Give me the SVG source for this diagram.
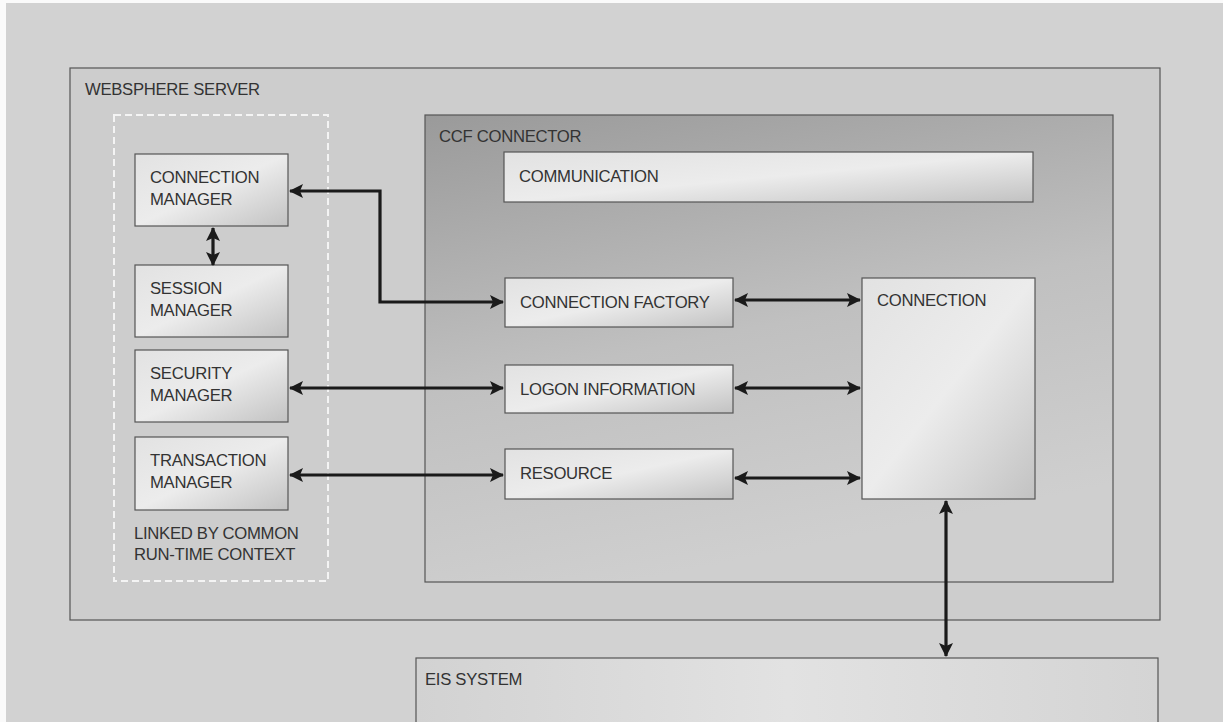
<svg xmlns="http://www.w3.org/2000/svg" width="1223" height="722" viewBox="0 0 1223 722">
<defs>
<linearGradient id="nodeGrad" x1="0" y1="0" x2="1" y2="1">
<stop offset="0" stop-color="#e2e2e2"/>
<stop offset="0.5" stop-color="#ececec"/>
<stop offset="1" stop-color="#c2c2c2"/>
</linearGradient>
<linearGradient id="ccfGrad" x1="0" y1="0" x2="0.3" y2="1">
<stop offset="0" stop-color="#9a9a9a"/>
<stop offset="0.55" stop-color="#c0c0c0"/>
<stop offset="1" stop-color="#cfcfcf"/>
</linearGradient>
<linearGradient id="eisGrad" x1="0" y1="0" x2="1" y2="0">
<stop offset="0" stop-color="#d2d2d2"/>
<stop offset="0.5" stop-color="#e2e2e2"/>
<stop offset="1" stop-color="#d4d4d4"/>
</linearGradient>
<marker id="ah" viewBox="0 0 14 14" refX="13" refY="7" markerWidth="14" markerHeight="14" markerUnits="userSpaceOnUse" orient="auto-start-reverse">
<path d="M0,0 L14,7 L0,14 L3,7 Z" fill="#1a1a1a"/>
</marker>
</defs>
<style>
text { font-family: "Liberation Sans", Arial, sans-serif; font-size: 16.7px; fill: #333; letter-spacing: -0.3px; }
.node { fill: url(#nodeGrad); stroke: #555; stroke-width: 1.2; }
.conn { fill: none; stroke: #1a1a1a; stroke-width: 3.2; marker-start: url(#ah); marker-end: url(#ah); }
</style>
<rect x="0" y="0" width="1223" height="722" fill="#fafafa"/>
<rect x="6" y="3" width="1217" height="719" fill="#d2d2d2"/>

<g id="websphere-server">
<rect x="70" y="68" width="1090" height="552" fill="#cdcdcd" stroke="#555" stroke-width="1.2"/>
<text x="85" y="95">WEBSPHERE SERVER</text>
</g>

<g id="runtime-context">
<rect x="114" y="115" width="214" height="466" fill="none" stroke="#f4f4f4" stroke-width="2" stroke-dasharray="7,4"/>
<text x="134" y="539">LINKED BY COMMON</text>
<text x="134" y="560">RUN-TIME CONTEXT</text>
</g>

<g id="ccf-connector">
<rect x="425" y="115" width="688" height="467" fill="url(#ccfGrad)" stroke="#555" stroke-width="1.2"/>
<text x="439" y="142">CCF CONNECTOR</text>
</g>

<g id="connection-manager">
<rect class="node" x="135" y="154" width="153" height="72"/>
<text x="150" y="183">CONNECTION</text>
<text x="150" y="205">MANAGER</text>
</g>
<g id="session-manager">
<rect class="node" x="135" y="265" width="153" height="72"/>
<text x="150" y="294">SESSION</text>
<text x="150" y="316">MANAGER</text>
</g>
<g id="security-manager">
<rect class="node" x="135" y="350" width="153" height="72"/>
<text x="150" y="379">SECURITY</text>
<text x="150" y="401">MANAGER</text>
</g>
<g id="transaction-manager">
<rect class="node" x="135" y="437" width="153" height="73"/>
<text x="150" y="466">TRANSACTION</text>
<text x="150" y="488">MANAGER</text>
</g>

<g id="communication">
<rect class="node" x="504" y="152" width="529" height="50"/>
<text x="519" y="182">COMMUNICATION</text>
</g>
<g id="connection-factory">
<rect class="node" x="505" y="278" width="228" height="49"/>
<text x="520" y="308">CONNECTION FACTORY</text>
</g>
<g id="logon-information">
<rect class="node" x="505" y="365" width="228" height="48"/>
<text x="520" y="395">LOGON INFORMATION</text>
</g>
<g id="resource">
<rect class="node" x="505" y="449" width="228" height="50"/>
<text x="520" y="479">RESOURCE</text>
</g>
<g id="connection">
<rect class="node" x="862" y="278" width="173" height="221"/>
<text x="877" y="306">CONNECTION</text>
</g>

<g id="eis-system">
<rect x="416" y="658" width="742" height="70" fill="url(#eisGrad)" stroke="#555" stroke-width="1.2"/>
<text x="425" y="685">EIS SYSTEM</text>
</g>

<g id="connectors">
<path class="conn" d="M290,191 H380 V302 H503"/>
<path class="conn" d="M213,228 V265"/>
<path class="conn" d="M290,388 H503"/>
<path class="conn" d="M290,475 H503"/>
<path class="conn" d="M735,300 H860"/>
<path class="conn" d="M735,388 H860"/>
<path class="conn" d="M735,478 H860"/>
<path class="conn" d="M946,501 V656"/>
</g>
</svg>
